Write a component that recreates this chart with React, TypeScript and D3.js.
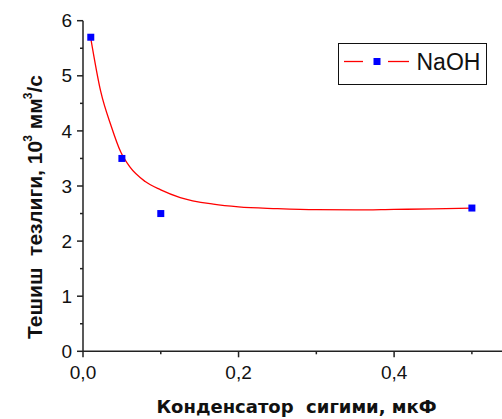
import React from "react";
import * as d3 from "d3";

const pointX = [0.01, 0.05, 0.1, 0.5];
const pointY = [5.7, 3.5, 2.5, 2.6];

const curveX = [0.01, 0.0227, 0.0364, 0.0484, 0.06, 0.08, 0.1, 0.125, 0.1675, 0.2, 0.25, 0.3, 0.35, 0.4, 0.45, 0.5];
const curveY = [5.68, 4.72, 4.08, 3.62, 3.35, 3.08, 2.93, 2.79, 2.67, 2.62, 2.59, 2.57, 2.565, 2.575, 2.585, 2.6];

const xMajor = [0, 0.2, 0.4];
const xMinor = [0.1, 0.3, 0.5];
const xTickLabels = ["0,0", "0,2", "0,4"];
const yMajor = [0, 1, 2, 3, 4, 5, 6];
const yMinor = [0.5, 1.5, 2.5, 3.5, 4.5, 5.5];

const seriesName = "NaOH";

export default function App() {
  const W = 502, H = 419;
  const x = d3.scaleLinear().domain([0, 0.54]).range([83, 503]);
  const y = d3.scaleLinear().domain([0, 6]).range([351.3, 20.7]);
  const pts = curveX.map((v, i) => [v, curveY[i]] as [number, number]);
  const line = d3
    .line<[number, number]>()
    .x((d) => x(d[0]))
    .y((d) => y(d[1]))
    .curve(d3.curveMonotoneX);
  const axisColor = "#222";
  const tickFont = "'Liberation Sans', Arial, sans-serif";
  return (
    <svg width={W} height={H} style={{ position: "absolute", left: 0, top: 0, background: "#fff" }}>
      <rect x={0} y={0} width={W} height={H} fill="#fff" />
      {/* axes */}
      <line x1={x(0)} x2={x(0)} y1={y(6)} y2={y(0)} stroke={axisColor} strokeWidth={1.5} />
      <line x1={x(0)} x2={x(0.54)} y1={y(0)} y2={y(0)} stroke={axisColor} strokeWidth={1.5} />
      {yMajor.map((v) => (
        <g key={"ym" + v}>
          <line x1={x(0) - 6} x2={x(0)} y1={y(v)} y2={y(v)} stroke={axisColor} strokeWidth={1.5} />
          <text x={72} y={y(v)} dy="0.35em" textAnchor="end" fontFamily={tickFont} fontSize={19} fill="#111">
            {v}
          </text>
        </g>
      ))}
      {yMinor.map((v) => (
        <line key={"yn" + v} x1={x(0) - 3} x2={x(0)} y1={y(v)} y2={y(v)} stroke={axisColor} strokeWidth={1.5} />
      ))}
      {xMajor.map((v, i) => (
        <g key={"xm" + v}>
          <line x1={x(v)} x2={x(v)} y1={y(0)} y2={y(0) + 6} stroke={axisColor} strokeWidth={1.5} />
          <text x={x(v)} y={379.3} textAnchor="middle" fontFamily={tickFont} fontSize={19} fill="#111">
            {xTickLabels[i]}
          </text>
        </g>
      ))}
      {xMinor.map((v) => (
        <line key={"xn" + v} x1={x(v)} x2={x(v)} y1={y(0)} y2={y(0) + 3} stroke={axisColor} strokeWidth={1.5} />
      ))}
      {/* curve */}
      <path d={line(pts) || ""} fill="none" stroke="#ff0000" strokeWidth={1.3} />
      {pointX.map((v, i) => (
        <rect key={"p" + i} x={x(v) - 3.5} y={y(pointY[i]) - 3.5} width={7} height={7} fill="#0000ff" />
      ))}
      {/* legend */}
      <rect x={338.5} y={43.5} width={148} height={41} fill="#fff" stroke="#111" strokeWidth={1} />
      <line x1={344} x2={363} y1={61.5} y2={61.5} stroke="#ff0000" strokeWidth={1.3} />
      <line x1={388} x2={409} y1={61.5} y2={61.5} stroke="#ff0000" strokeWidth={1.3} />
      <rect x={373.5} y={58} width={7} height={7} fill="#0000ff" />
      <text x={416.5} y={70} fontFamily={tickFont} fontSize={23} fill="#111">
        {seriesName}
      </text>
      {/* axis titles */}
      <text
        x={296.5}
        y={413}
        textAnchor="middle"
        fontFamily="'DejaVu Sans', Verdana, sans-serif"
        fontWeight="bold"
        fontSize={18}
        fill="#111"
        style={{ whiteSpace: "pre" }}
      >
        Конденсатор  сигими, мкФ
      </text>
      <text
        transform="translate(42,207) rotate(-90)"
        textAnchor="middle"
        fontFamily={tickFont}
        fontWeight="bold"
        fontSize={21}
        fill="#111"
        style={{ whiteSpace: "pre" }}
      >
        <tspan>Тешиш  тезлиги, 10</tspan>
        <tspan dx={-1} dy={-10} fontSize={12}>3</tspan>
        <tspan dy={10}> мм</tspan>
        <tspan dx={-1} dy={-10} fontSize={12}>3</tspan>
        <tspan dy={10}>/с</tspan>
      </text>
    </svg>
  );
}
